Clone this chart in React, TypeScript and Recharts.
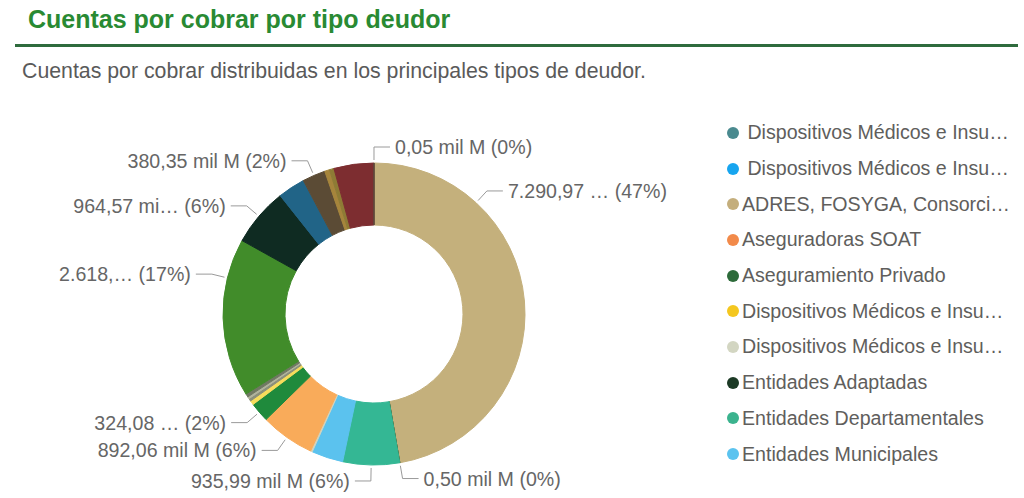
import React from "react";
import { PieChart, Pie, Cell, Legend } from "recharts";

// slices in drawing order, clockwise from 12 o'clock (mil M)
const sliceNames = [
  "ADRES, FOSYGA, Consorcios",
  "Empresas de Medicina Prepagada",
  "Entidades Departamentales",
  "Entidades Municipales",
  "Dispositivos Médicos e Insumos 4",
  "Aseguradoras SOAT",
  "Aseguramiento Privado",
  "Dispositivos Médicos e Insumos 3",
  "Entidades Distritales",
  "Entidades Nacionales",
  "Entidades Territoriales",
  "EPS Contributivo",
  "Entidades Adaptadas",
  "EPS Subsidiado",
  "IPS Privadas",
  "IPS Públicas",
  "Otros Deudores",
  "Particulares",
  "Régimen Especial",
];
const sliceValues = [
  7290.97, 0.5, 935.99, 520, 30, 892.06, 324.08, 70, 45, 35, 55, 2618.2,
  964.57, 450, 380.35, 80, 75, 660, 0.05,
];
const sliceColors = [
  "#c4b07c", "#3d4a1e", "#34b794", "#5bc2ee", "#d2d3bd", "#f9ab5a",
  "#1f8a3c", "#f6dc5c", "#8a8f7a", "#b0b39c", "#6f7862", "#418c2a",
  "#0f2b22", "#216487", "#5b4b35", "#a6853c", "#8e7b35", "#7d2d30",
  "#5a4d3d",
];
// value part of the data labels; "" where the report hides the label
const sliceValueLabels = [
  "7.290,97 …", "0,50 mil M", "935,99 mil M", "", "", "892,06 mil M",
  "324,08 …", "", "", "", "", "2.618,…", "964,57 mi…", "", "380,35 mil M",
  "", "", "", "0,05 mil M",
];

const legendNames = [
  " Dispositivos Médicos e Insu…",
  " Dispositivos Médicos e Insu…",
  "ADRES, FOSYGA, Consorci…",
  "Aseguradoras SOAT",
  "Aseguramiento Privado",
  "Dispositivos Médicos e Insu…",
  "Dispositivos Médicos e Insu…",
  "Entidades Adaptadas",
  "Entidades Departamentales",
  "Entidades Municipales",
];
const legendColors = [
  "#4a8a8f", "#17a5ef", "#c4ae7c", "#f28a4a", "#2d6b3a",
  "#f4c71f", "#d3d6c2", "#1c3a25", "#3bb38e", "#5bc3ef",
];

const data = sliceNames.map((name, i) => ({ name, value: sliceValues[i] }));

const FONT = "'Liberation Sans', Arial, sans-serif";
const RADIAN = Math.PI / 180;

// power bi style leader: short radial segment then a horizontal one
const renderLabel = (props: any) => {
  const { cx, cy, outerRadius, startAngle, endAngle, midAngle, percent, index } = props;
  const text = sliceValueLabels[index];
  if (!text) return null;
  let angle = midAngle;
  if (percent > 0.12) {
    // big slices: anchor at the quarter point closest to the top
    const q1 = startAngle + (endAngle - startAngle) / 4;
    const q3 = startAngle + ((endAngle - startAngle) * 3) / 4;
    angle = Math.sin(q1 * RADIAN) >= Math.sin(q3 * RADIAN) ? q1 : q3;
  }
  const cos = Math.cos(angle * RADIAN);
  const sin = Math.sin(angle * RADIAN);
  const x0 = cx + (outerRadius + 3) * cos;
  const y0 = cy - (outerRadius + 3) * sin;
  const x1 = cx + (outerRadius + 16) * cos;
  const y1 = cy - (outerRadius + 16) * sin;
  const right = cos > -0.01;
  const x2 = x1 + (right ? 16 : -16);
  return (
    <g key={`lbl-${index}`}>
      <polyline
        points={`${x0},${y0} ${x1},${y1} ${x2},${y1}`}
        fill="none"
        stroke="#9a9a9a"
        strokeWidth={1}
      />
      <text
        x={x2 + (right ? 5 : -5)}
        y={y1}
        textAnchor={right ? "start" : "end"}
        dominantBaseline="central"
        fill="#666666"
        fontSize={19.6}
        fontFamily={FONT}
      >
        {`${text} (${Math.round(percent * 100)}%)`}
      </text>
    </g>
  );
};

const renderLegend = () => (
  <div style={{ fontFamily: FONT, fontSize: 19.6, color: "#605e5c" }}>
    {legendNames.map((n, i) => (
      <div key={i} style={{ display: "flex", alignItems: "center", height: 35.7 }}>
        <span
          style={{
            display: "inline-block",
            width: 12,
            height: 12,
            borderRadius: "50%",
            background: legendColors[i],
            marginRight: 3,
            flexShrink: 0,
          }}
        />
        <span style={{ whiteSpace: "pre" }}>{n}</span>
      </div>
    ))}
  </div>
);

export default function App() {
  return (
    <div
      style={{
        position: "absolute",
        left: 0,
        top: 0,
        width: 1024,
        height: 498,
        background: "#ffffff",
        overflow: "hidden",
        fontFamily: FONT,
      }}
    >
      <div
        style={{
          position: "absolute",
          left: 28,
          top: 4,
          lineHeight: "30px",
          fontSize: 25,
          fontWeight: "bold",
          color: "#298a33",
        }}
      >
        Cuentas por cobrar por tipo deudor
      </div>
      <div
        style={{
          position: "absolute",
          left: 15,
          top: 44,
          width: 1003,
          height: 3,
          background: "#2f6b3d",
        }}
      />
      <div
        style={{
          position: "absolute",
          left: 22,
          top: 57,
          lineHeight: "28px",
          fontSize: 21.3,
          color: "#5a5a5a",
        }}
      >
        Cuentas por cobrar distribuidas en los principales tipos de deudor.
      </div>
      <div style={{ position: "absolute", left: 0, top: 0 }}>
        <PieChart width={1024} height={498} margin={{ top: 0, right: 0, bottom: 0, left: 0 }}>
          <Pie
            data={data}
            dataKey="value"
            nameKey="name"
            cx={374}
            cy={314}
            innerRadius={89}
            outerRadius={151}
            startAngle={90}
            endAngle={-270}
            label={renderLabel}
            labelLine={false}
            isAnimationActive={false}
          >
            {data.map((d, i) => (
              <Cell key={d.name} fill={sliceColors[i]} stroke={sliceColors[i]} strokeWidth={1} />
            ))}
          </Pie>
          <Legend
            content={renderLegend}
            layout="vertical"
            align="right"
            verticalAlign="top"
            wrapperStyle={{ position: "absolute", left: 727, top: 115, width: 295 }}
          />
        </PieChart>
      </div>
    </div>
  );
}
